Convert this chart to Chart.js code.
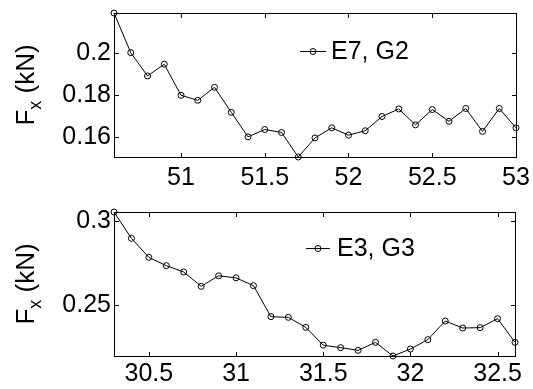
<!DOCTYPE html>
<html>
<head>
<meta charset="utf-8">
<script src="https://cdn.jsdelivr.net/npm/chart.js@4.4.1/dist/chart.umd.min.js"></script>
<style>
  html, body { margin: 0; padding: 0; background: #fff; }
  #wrap { position: relative; width: 533px; height: 389px; overflow: hidden; }
  canvas { position: absolute; left: 0; }
  #c1 { top: 0; }
  #c2 { top: 195px; }
</style>
</head>
<body>
<div id="wrap">
  <canvas id="c1" width="533" height="195"></canvas>
  <canvas id="c2" width="533" height="194"></canvas>
</div>
<script>
// ---------- DATA ----------
const topLabel = 'E7, G2';
const topX = [50.6, 50.7, 50.8, 50.9, 51.0, 51.1, 51.2, 51.3, 51.4, 51.5, 51.6, 51.7, 51.8,
              51.9, 52.0, 52.1, 52.2, 52.3, 52.4, 52.5, 52.6, 52.7, 52.8, 52.9, 53.0];
const topY = [0.2190, 0.2001, 0.1890, 0.1946, 0.1798, 0.1774, 0.1836, 0.1717, 0.1600, 0.1635, 0.1621, 0.1504, 0.1595,
              0.1643, 0.1608, 0.1629, 0.1697, 0.1733, 0.1657, 0.1730, 0.1674, 0.1735, 0.1626, 0.1735, 0.1643];
const topXTicks = [51, 51.5, 52, 52.5, 53];
const topXTickLabels = ['51', '51.5', '52', '52.5', '53'];
const topYTicks = [0.16, 0.18, 0.2];
const topYTickLabels = ['0.16', '0.18', '0.2'];

const botLabel = 'E3, G3';
const botX = [30.3, 30.4, 30.5, 30.6, 30.7, 30.8, 30.9, 31.0, 31.1, 31.2, 31.3, 31.4,
              31.5, 31.6, 31.7, 31.8, 31.9, 32.0, 32.1, 32.2, 32.3, 32.4, 32.5, 32.6];
const botY = [0.3056, 0.2898, 0.2784, 0.2734, 0.2696, 0.2610, 0.2673, 0.2661, 0.2614, 0.2428, 0.2424, 0.2364,
              0.2257, 0.2242, 0.2226, 0.2274, 0.2192, 0.2234, 0.2290, 0.2402, 0.2360, 0.2362, 0.2416, 0.2274];
const botXTicks = [30.5, 31, 31.5, 32, 32.5];
const botXTickLabels = ['30.5', '31', '31.5', '32', '32.5'];
const botYTicks = [0.25, 0.3];
const botYTickLabels = ['0.25', '0.3'];

const yTitleMain = 'F';
const yTitleSub = 'x';
const yTitleRest = ' (kN)';

// ---------- STYLE ----------
const FONT = '"Liberation Sans", Arial, Helvetica, sans-serif';

const decor = {
  id: 'mlDecor',
  afterDraw(chart, args, o) {
    const { ctx, chartArea: a, scales: { x, y } } = chart;
    const L = Math.round(a.left), T = Math.round(a.top), R = Math.round(a.right), B = Math.round(a.bottom);
    ctx.save();
    ctx.strokeStyle = '#000';
    ctx.lineWidth = 1;
    // box
    ctx.strokeRect(L + 0.5, T + 0.5, R - L, B - T);
    // inward ticks on all sides
    const tl = 4;
    ctx.beginPath();
    x.ticks.forEach(t => {
      const px = Math.round(x.getPixelForValue(t.value)) + 0.5;
      ctx.moveTo(px, B); ctx.lineTo(px, B - tl);
      ctx.moveTo(px, T + 1); ctx.lineTo(px, T + 1 + tl);
    });
    y.ticks.forEach(t => {
      const py = Math.round(y.getPixelForValue(t.value)) + 0.5;
      ctx.moveTo(L + 1, py); ctx.lineTo(L + 1 + tl, py);
      ctx.moveTo(R, py); ctx.lineTo(R - tl, py);
    });
    ctx.stroke();

    // legend (no box)
    const ds = chart.data.datasets[0];
    ctx.beginPath();
    ctx.moveTo(o.lx0, o.ly + 0.5); ctx.lineTo(o.lx1, o.ly + 0.5);
    ctx.stroke();
    ctx.beginPath();
    ctx.arc((o.lx0 + o.lx1) / 2, o.ly + 0.5, 3, 0, Math.PI * 2);
    ctx.stroke();
    ctx.fillStyle = '#000';
    ctx.font = '25px ' + FONT;
    ctx.textBaseline = 'middle';
    ctx.textAlign = 'left';
    ctx.fillText(ds.label, o.tx, o.ly + 1);

    // y-axis title with subscript
    const cy = (a.top + a.bottom) / 2;
    ctx.translate(o.titleX, cy);
    ctx.rotate(-Math.PI / 2);
    ctx.textBaseline = 'alphabetic';
    const fMain = '26px ' + FONT, fSub = '18px ' + FONT;
    ctx.font = fMain; const w1 = ctx.measureText(yTitleMain).width;
    const w3 = ctx.measureText(yTitleRest).width;
    ctx.font = fSub; const w2 = ctx.measureText(yTitleSub).width;
    let sx = -(w1 + w2 + w3) / 2;
    ctx.font = fMain; ctx.fillText(yTitleMain, sx, 0); sx += w1;
    ctx.font = fSub; ctx.fillText(yTitleSub, sx, 7); sx += w2;
    ctx.font = fMain; ctx.fillText(yTitleRest, sx, 0);
    ctx.restore();
  }
};

function makeChart(id, c) {
  return new Chart(document.getElementById(id), {
    type: 'line',
    data: {
      datasets: [{
        label: c.label,
        data: c.xs.map((v, i) => ({ x: v, y: c.ys[i] })),
        borderColor: '#000',
        borderWidth: 1,
        pointRadius: 3,
        pointBorderWidth: 1,
        pointBorderColor: '#000',
        pointBackgroundColor: 'rgba(0,0,0,0)',
        tension: 0,
        fill: false,
        clip: false
      }]
    },
    options: {
      responsive: false,
      animation: false,
      devicePixelRatio: 1,
      layout: { padding: { left: 0, top: c.padTop, right: c.padRight, bottom: 0 } },
      plugins: {
        legend: { display: false },
        tooltip: { enabled: false },
        mlDecor: c.decor
      },
      scales: {
        x: {
          type: 'linear', min: c.xmin, max: c.xmax,
          grid: { display: false, drawTicks: false },
          border: { display: false },
          ticks: {
            color: '#000', font: { family: FONT, size: 25 }, padding: c.xPad,
            autoSkip: false, maxRotation: 0,
            callback: (v, i) => c.xTickLabels[i]
          },
          afterBuildTicks: s => { s.ticks = c.xTicks.map(v => ({ value: v })); },
          afterFit: s => { s.height = c.xAxisH; s.paddingLeft = 0; s.paddingRight = 0; }
        },
        y: {
          type: 'linear', min: c.ymin, max: c.ymax,
          grid: { display: false, drawTicks: false },
          border: { display: false },
          ticks: {
            color: '#000', font: { family: FONT, size: 25 }, padding: 3,
            autoSkip: false,
            callback: (v, i) => c.yTickLabels[i]
          },
          afterBuildTicks: s => { s.ticks = c.yTicks.map(v => ({ value: v })); },
          afterFit: s => { s.width = 114; s.paddingTop = 0; s.paddingBottom = 0; }
        }
      }
    },
    plugins: [decor]
  });
}

makeChart('c1', {
  label: topLabel, xs: topX, ys: topY,
  xmin: 50.6, xmax: 53, ymin: 0.1504, ymax: 0.219,
  xTicks: topXTicks, xTickLabels: topXTickLabels,
  yTicks: topYTicks, yTickLabels: topYTickLabels,
  padTop: 13, padRight: 17, xAxisH: 38, xPad: 6,
  decor: { lx0: 300, lx1: 326, ly: 51, tx: 331, titleX: 34 }
});

makeChart('c2', {
  label: botLabel, xs: botX, ys: botY,
  xmin: 30.3, xmax: 32.6, ymin: 0.2192, ymax: 0.3056,
  xTicks: botXTicks, xTickLabels: botXTickLabels,
  yTicks: botYTicks, yTickLabels: botYTickLabels,
  padTop: 17, padRight: 18, xAxisH: 33, xPad: 3,
  decor: { lx0: 306, lx1: 330, ly: 53, tx: 337, titleX: 34 }
});
</script>
</body>
</html>
